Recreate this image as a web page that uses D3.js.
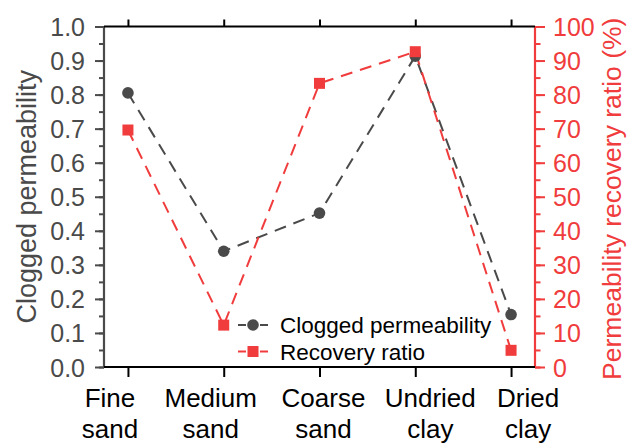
<!DOCTYPE html>
<html><head><meta charset="utf-8">
<script src="https://cdn.jsdelivr.net/npm/d3@7"></script>
<style>body{margin:0;background:#fff}svg{display:block;font-family:"Liberation Sans",Arial,sans-serif}</style>
</head><body><svg id="c" width="629" height="443"></svg>
<script>
const categories = [["Fine","sand"],["Medium","sand"],["Coarse","sand"],["Undried","clay"],["Dried","clay"]];
const clogged = [0.805, 0.34, 0.452, 0.913, 0.154];
const recovery = [69.6, 12.3, 83.3, 92.6, 4.9];
const leftTicks = [0,0.1,0.2,0.3,0.4,0.5,0.6,0.7,0.8,0.9,1.0];
const rightTicks = [0,10,20,30,40,50,60,70,80,90,100];
const seriesNames = ["Clogged permeability","Recovery ratio"];

const grey = "#4a4a4a", red = "#f03c3c";
const svg = d3.select("#c");
const m = {l:104, r:535, t:26.5, b:367};
const x = d3.scaleLinear().domain([-0.25, categories.length-0.75]).range([m.l, m.r]);
const yL = d3.scaleLinear().domain([0,1]).range([m.b, m.t]);
const yR = d3.scaleLinear().domain([0,100]).range([m.b, m.t]);

// minor ticks
const gl = svg.append("g").attr("transform",`translate(${m.l},0)`)
  .call(d3.axisLeft(yL).tickValues(d3.range(0,1.001,0.05)).tickSize(5).tickFormat(""));
gl.selectAll("line").attr("stroke",grey).attr("stroke-width",2);
gl.select(".domain").remove();
const gl2 = svg.append("g").attr("transform",`translate(${m.l},0)`)
  .call(d3.axisLeft(yL).tickValues(leftTicks).tickSize(9).tickPadding(10).tickFormat(d3.format(".1f")));
gl2.selectAll("line").attr("stroke",grey).attr("stroke-width",2);
gl2.select(".domain").attr("stroke",grey).attr("stroke-width",2.2).attr("d",`M0,${m.b}V${m.t}`);
gl2.selectAll("text").attr("fill",grey).style("font-size","25px").attr("dy","0.36em");

const gr = svg.append("g").attr("transform",`translate(${m.r},0)`)
  .call(d3.axisRight(yR).tickValues(d3.range(0,100.1,5)).tickSize(5.5).tickFormat(""));
gr.selectAll("line").attr("stroke",red).attr("stroke-width",2);
gr.select(".domain").remove();
const gr2 = svg.append("g").attr("transform",`translate(${m.r},0)`)
  .call(d3.axisRight(yR).tickValues(rightTicks).tickSize(10).tickPadding(8));
gr2.selectAll("line").attr("stroke",red).attr("stroke-width",2);
gr2.select(".domain").attr("stroke",red).attr("stroke-width",2.2).attr("d",`M0,${m.b}V${m.t}`);
gr2.selectAll("text").attr("fill",red).style("font-size","25px").attr("dy","0.36em");

// bottom & top axes
const idx = d3.range(categories.length);
const gb = svg.append("g").attr("transform",`translate(0,${m.b})`)
  .call(d3.axisBottom(x).tickValues(idx).tickSize(10).tickFormat(""));
gb.selectAll("line").attr("stroke","#000").attr("stroke-width",2);
gb.select(".domain").attr("stroke","#000").attr("stroke-width",2.2).attr("d",`M${m.l},0H${m.r}`);
const gt = svg.append("g").attr("transform",`translate(0,${m.t})`)
  .call(d3.axisTop(x).tickValues(idx).tickSize(7).tickFormat(""));
gt.selectAll("line").attr("stroke","#000").attr("stroke-width",2);
gt.select(".domain").attr("stroke","#000").attr("stroke-width",2.2).attr("d",`M${m.l},0H${m.r}`);

// category labels
const labelDx = [-18,-13,4,15,17];
categories.forEach((c,i)=>{
  const t = svg.append("text").attr("x", x(i)+labelDx[i]).attr("y", 407)
    .attr("text-anchor","middle").style("font-size","26px").attr("fill","#000");
  t.append("tspan").attr("x", x(i)+labelDx[i]).text(c[0]);
  t.append("tspan").attr("x", x(i)+labelDx[i]).attr("dy", 31).text(c[1]);
});

// axis titles
svg.append("text").attr("transform",`translate(36,${(m.t+m.b)/2}) rotate(-90)`)
  .attr("text-anchor","middle").style("font-size","27px").attr("fill",grey).text("Clogged permeability");
svg.append("text").attr("transform",`translate(621,${(m.t+m.b)/2 + 2}) rotate(-90)`)
  .attr("text-anchor","middle").style("font-size","26.5px").attr("fill",red).text("Permeability recovery ratio (%)");

// lines
const lineL = d3.line().x((d,i)=>x(i)).y(d=>yL(d));
const lineR = d3.line().x((d,i)=>x(i)).y(d=>yR(d));
svg.append("path").attr("d",lineL(clogged)).attr("fill","none").attr("stroke",grey)
  .attr("stroke-width",2).attr("stroke-dasharray","12,8");
svg.append("path").attr("d",lineR(recovery)).attr("fill","none").attr("stroke",red)
  .attr("stroke-width",2).attr("stroke-dasharray","12,8");
svg.selectAll(".dot").data(clogged).enter().append("circle")
  .attr("cx",(d,i)=>x(i)).attr("cy",d=>yL(d)).attr("r",5.8).attr("fill",grey);
svg.selectAll(".sq").data(recovery).enter().append("rect")
  .attr("x",(d,i)=>x(i)-5.5).attr("y",d=>yR(d)-5.5).attr("width",11).attr("height",11).attr("fill",red);

// legend
const lg = svg.append("g").attr("transform","translate(238,325)");
[grey, red].forEach((col,i)=>{
  const g = lg.append("g").attr("transform",`translate(0,${i*26.5})`);
  g.append("line").attr("x1",0).attr("x2",8).attr("stroke",col).attr("stroke-width",2);
  g.append("line").attr("x1",22).attr("x2",30).attr("stroke",col).attr("stroke-width",2);
  if(i===0) g.append("circle").attr("cx",15).attr("r",5.8).attr("fill",col);
  else g.append("rect").attr("x",9.5).attr("y",-5.5).attr("width",11).attr("height",11).attr("fill",col);
  g.append("text").attr("x",42).attr("dy","0.36em").style("font-size","22.5px").attr("fill","#000").text(seriesNames[i]);
});
</script></body></html>
